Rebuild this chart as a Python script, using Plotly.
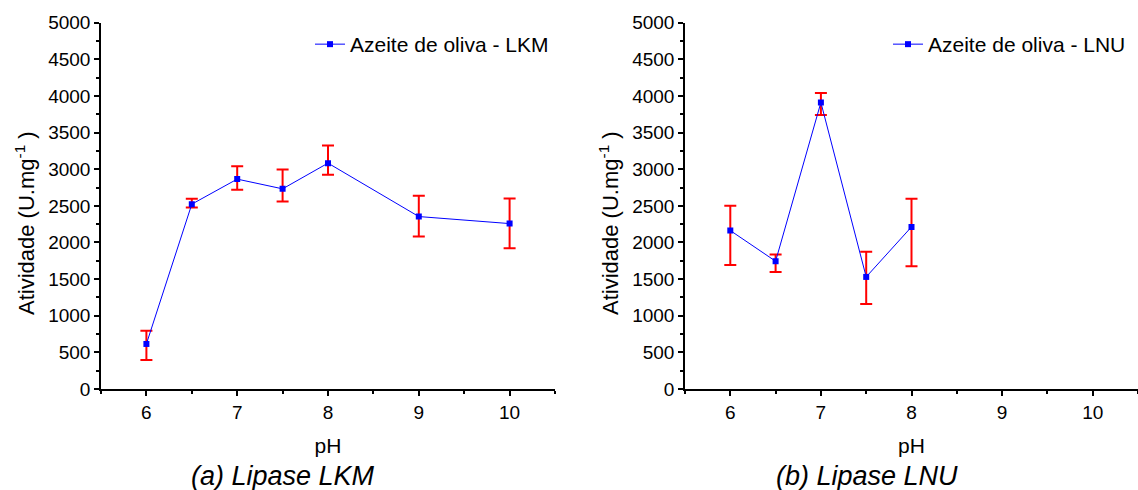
import plotly.graph_objects as go

# pH values and activity (U/mg)
ph_lkm = [6, 6.5, 7, 7.5, 8, 9, 10]
atv_lkm = [615, 2523, 2865, 2732, 3083, 2354, 2258]
err_lkm_up = [181, 73, 177, 264, 241, 283, 342]
err_lkm_down = [219, 46, 146, 173, 160, 273, 336]

ph_lnu = [6, 6.5, 7, 7.5, 8]
atv_lnu = [2163, 1744, 3911, 1530, 2213]
err_lnu_up = [337, 91, 128, 342, 383]
err_lnu_down = [469, 146, 172, 369, 537]

x_ticks = [6, 7, 8, 9, 10]
y_ticks = [0, 500, 1000, 1500, 2000, 2500, 3000, 3500, 4000, 4500, 5000]

FONT = "Arial, Liberation Sans, sans-serif"
W, H = 1138, 490


def make_trace(x, y, up, down, name, xa, ya, legend):
    return go.Scatter(
        x=x, y=y, name=name, mode="lines+markers",
        xaxis=xa, yaxis=ya, legend=legend,
        line=dict(color="#0000ff", width=1),
        marker=dict(symbol="square", size=6, color="#0000ff"),
        error_y=dict(type="data", symmetric=False, array=up, arrayminus=down,
                     color="#ff0000", thickness=2, width=6),
    )


fig = go.Figure()
fig.add_trace(make_trace(ph_lkm, atv_lkm, err_lkm_up, err_lkm_down,
                         "Azeite de oliva - LKM", "x", "y", "legend"))
fig.add_trace(make_trace(ph_lnu, atv_lnu, err_lnu_up, err_lnu_down,
                         "Azeite de oliva - LNU", "x2", "y2", "legend2"))

y_dom = [1 - 389 / H, 1 - 22.7 / H]

xax = dict(
    range=[5.5, 10.5], tickvals=x_ticks, ticks="outside", ticklen=5,
    tickwidth=1.5, tickcolor="black", showline=True, linecolor="black",
    linewidth=1.5, showgrid=False, zeroline=False, automargin=False,
    tickfont=dict(size=19, color="black"),
    minor=dict(dtick=0.5, tick0=5.5, ticks="outside", ticklen=3,
               tickwidth=1.5, tickcolor="black"),
    title=dict(text="pH", font=dict(size=21, color="black"), standoff=17),
)
yax = dict(
    range=[0, 5000], tickvals=y_ticks, ticks="outside", ticklen=5,
    tickwidth=1.5, tickcolor="black", showline=True, linecolor="black",
    linewidth=1.5, showgrid=False, zeroline=False, automargin=False,
    tickfont=dict(size=19, color="black"),
    minor=dict(dtick=250, ticks="outside", ticklen=3, tickwidth=1.5,
               tickcolor="black"),
)

legend_style = dict(
    font=dict(size=21, color="black"), bgcolor="rgba(0,0,0,0)",
    xanchor="right", yanchor="top", itemwidth=30,
)

fig.update_layout(
    width=W, height=H,
    margin=dict(l=0, r=0, t=0, b=0),
    paper_bgcolor="white", plot_bgcolor="white",
    font=dict(family=FONT, color="black"),
    xaxis=dict(domain=[101 / W, 555 / W], anchor="y", **xax),
    yaxis=dict(domain=y_dom, anchor="x", **yax),
    xaxis2=dict(domain=[685 / W, 1], anchor="y2", **xax),
    yaxis2=dict(domain=y_dom, anchor="x2", **yax),
    legend=dict(x=554 / W, y=1 - 24 / H, **legend_style),
    legend2=dict(x=1131 / W, y=1 - 24 / H, **legend_style),
    showlegend=True,
)

# y titles sit a little below the middle of the axis in the original
for xc in [25 / W, 609 / W]:
    fig.add_annotation(
        x=xc, y=1 - 223 / H, xref="paper", yref="paper",
        text="Atividade (U.mg<sup>-1</sup> )", textangle=-90, showarrow=False,
        font=dict(size=22, color="black", family=FONT),
        xanchor="center", yanchor="middle",
    )

for xc, text in [(283 / W, "(a) Lipase LKM"), (867 / W, "(b) Lipase LNU")]:
    fig.add_annotation(
        x=xc, y=1 - 476 / H, xref="paper", yref="paper",
        text="<i>" + text + "</i>", showarrow=False,
        font=dict(size=27, color="black", family=FONT),
        xanchor="center", yanchor="middle",
    )

# drop the default body margin so the figure fills the window
fig.write_html("out.html", config={"displayModeBar": False},
               post_script="document.body.style.margin = '0';")
